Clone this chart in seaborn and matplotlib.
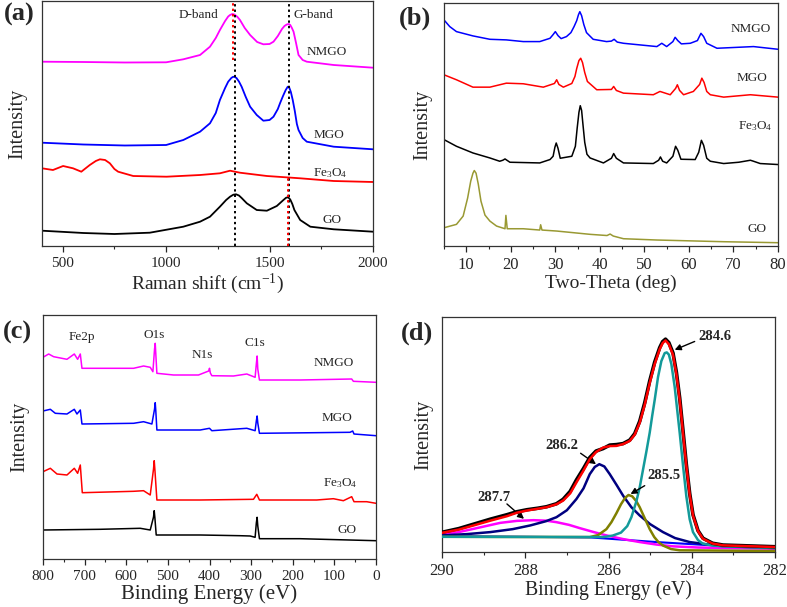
import matplotlib
matplotlib.use("Agg")
import matplotlib.pyplot as plt
from matplotlib.ticker import MultipleLocator
import seaborn as sns

# ---------------- data (intensity in arbitrary units) ----------------
# (a) Raman
a_nmgo_x = [400, 600, 800, 1000, 1083, 1164, 1212, 1240, 1260, 1285, 1300, 1309, 1320, 1330, 1345, 1357, 1380, 1406, 1440, 1470, 1500, 1519, 1540, 1560, 1572, 1583, 1593, 1600, 1608, 1616, 1628, 1640, 1660, 1680, 1810, 2000]
a_nmgo_y = [184.3, 184, 183.5, 183.7, 186.7, 191, 199.3, 208, 216, 225, 229.5, 231, 232, 231.5, 229, 226, 218, 211, 204, 201.7, 202, 204.3, 210, 217, 220, 221.5, 222, 221, 218, 214.3, 203, 191, 186, 184.3, 181, 178.3]
a_mgo_x = [400, 600, 800, 1000, 1083, 1164, 1212, 1240, 1260, 1285, 1300, 1315, 1322, 1330, 1340, 1352, 1365, 1385, 1406, 1438, 1470, 1500, 1519, 1540, 1551, 1565, 1578, 1588, 1595, 1603, 1612, 1622, 1632, 1640, 1660, 1680, 1810, 2000]
a_mgo_y = [103.3, 101.5, 100.5, 101, 106, 114.3, 122.7, 133, 146, 158, 164.3, 168, 169, 169.3, 168, 164.5, 159.3, 149, 139.3, 131, 125.3, 126, 129.3, 137, 143, 150, 156, 159.3, 158.5, 154, 146, 135, 122, 116, 108, 104.3, 99.3, 96.7]
a_fe_x = [400, 453, 502, 550, 590, 631, 660, 680, 705, 728, 750, 768, 841, 1002, 1164, 1260, 1309, 1357, 1487, 1648, 1810, 2000]
a_fe_y = [77.7, 76, 80, 77.7, 74.3, 81, 85, 86.7, 86, 82.7, 77, 74.3, 70, 69.3, 71, 72.7, 75.3, 73.3, 70, 67.7, 65, 64]
a_go_x = [400, 600, 750, 921, 1083, 1164, 1212, 1260, 1290, 1309, 1325, 1338, 1352, 1365, 1390, 1438, 1487, 1535, 1567, 1580, 1590, 1600, 1610, 1620, 1648, 1697, 1810, 2000]
a_go_y = [15.3, 13, 12, 13.3, 19.3, 24.3, 29.3, 39.3, 46, 49.3, 51.3, 51.7, 50.5, 48, 42.7, 36, 35.3, 40, 46, 48.3, 48.7, 46.5, 42, 36, 26, 19.3, 16.7, 14.3]
a_band_pos = [1333, 1596]
a_red_pos = [1322, 1588]

# (b) XRD
b_nmgo_x = [5, 6.3, 7.8, 11.5, 15.3, 19, 22.8, 26.5, 28.8, 29.5, 30, 30.6, 31.3, 32.5, 33.5, 34.2, 34.8, 35.2, 35.5, 35.9, 36.4, 37, 38.5, 41.5, 42.6, 43.2, 43.9, 45.3, 52.8, 53.9, 55, 56.4, 56.9, 57.5, 58.3, 60.3, 61.9, 62.7, 63.3, 64, 66.3, 74.5, 80]
b_nmgo_y = [226.7, 220, 215, 210.7, 207.3, 206.7, 205, 205, 208.3, 212, 215, 211, 208, 210, 214, 220, 226, 232, 235, 231, 222, 214, 207.3, 205, 205.5, 207.3, 204.5, 203.3, 200, 203.3, 200, 205, 209.3, 206, 202.7, 203.3, 206, 213.3, 210, 203.3, 198.3, 200, 197.3]
b_mgo_x = [5, 7.8, 11.5, 15.3, 19, 22.8, 27.3, 29.8, 30.3, 30.8, 31.8, 33.7, 34.4, 34.8, 35.3, 35.7, 36.1, 36.6, 37.2, 39.3, 42.6, 43.1, 43.7, 45.3, 52, 53.5, 55.8, 57, 57.4, 57.9, 58.8, 61, 62.4, 62.9, 63.4, 64, 64.8, 67.8, 73.8, 80]
b_mgo_y = [171.7, 166.7, 159.3, 159.3, 163.3, 162.7, 159.3, 163, 166.7, 162, 159.3, 163, 170, 178, 186, 188.3, 184, 174, 165, 156.7, 157, 160, 156, 153.3, 151.7, 155, 151.7, 158, 161.7, 156, 151.7, 155, 162, 168.3, 164, 155, 151.7, 149.3, 151.7, 149.3]
b_fe_x = [5, 7.8, 11.5, 15.3, 17.5, 18.2, 18.7, 19.8, 26.5, 28.8, 29.5, 29.9, 30.2, 30.6, 31.1, 33.7, 34.5, 34.9, 35.3, 35.6, 35.9, 36.2, 36.6, 37.1, 37.8, 40.8, 42.6, 43.1, 43.7, 45.3, 52, 53.2, 53.6, 54.1, 55, 56.4, 57, 57.5, 58.2, 61.4, 62.2, 62.8, 63.3, 64, 64.8, 67.8, 71.2, 73.8, 74.5, 76, 80]
b_fe_y = [106.7, 100, 93.3, 88.3, 85, 86, 87.3, 84, 83.3, 86.7, 90, 99, 103.3, 98, 88, 90, 100, 118, 134, 140.7, 136, 122, 104, 92, 88.3, 83.3, 88, 92.7, 88, 83.3, 82.7, 86, 89.3, 85, 83.3, 90, 100, 96, 87, 86.7, 94, 106, 101, 88, 85, 82.7, 84, 86, 85, 82.7, 81.7]
b_go_x = [5, 7.8, 9.3, 10.3, 11, 11.5, 11.8, 12.2, 12.7, 13.3, 14.2, 15.3, 16.8, 18.7, 18.9, 19.2, 22.8, 26.5, 26.7, 27, 30.3, 37.8, 41.6, 42.3, 43, 45.3, 52.8, 67.8, 80]
b_go_y = [18.3, 21.7, 30, 48, 65, 73, 75.7, 73, 62, 45, 31, 25, 20, 17.3, 30.7, 17.3, 17.3, 16, 21.3, 16, 15, 11.7, 10.5, 12, 10, 7.3, 6, 4.3, 3.3]

# (c) XPS survey
c_nmgo_x = [800, 786.4, 774.4, 742.4, 724.8, 716.8, 710.4, 706.4, 662.4, 582.4, 558.4, 542.4, 536, 532, 530.4, 529, 526.4, 486.4, 426.4, 402, 400, 398, 394.4, 342.4, 310.4, 290.4, 287.5, 285.6, 284, 280, 182.4, 58.4, 54.4, 0]
c_nmgo_y = [201.7, 205, 202.3, 199.7, 205, 199.7, 205, 190.7, 190.7, 190.7, 193, 191.7, 187.3, 210, 215.7, 205, 185.7, 184, 184, 188, 190.7, 186, 183.3, 183, 185, 181.7, 195, 203, 190, 179, 179, 180, 177.7, 176.7]
c_mgo_x = [800, 782.4, 770.4, 742.4, 724.8, 718.4, 710.4, 706.4, 582.4, 558.4, 538.4, 532, 530.4, 529, 526.4, 422.4, 400, 394.4, 310.4, 290.4, 287.5, 285.6, 284, 280, 62.4, 56, 52.8, 0]
c_mgo_y = [148, 149.7, 145.7, 145, 149.7, 145, 149, 135, 135.7, 137.3, 135, 150, 156.3, 148, 129, 129, 130.7, 128.3, 130.7, 128.3, 138, 143, 136, 125.7, 126.7, 128, 125, 123.3]
c_fe_x = [800, 782.4, 766.4, 742.4, 724.8, 716.8, 710.4, 705.6, 582.4, 558.4, 542.4, 534.5, 532.8, 531, 526.4, 422.4, 294.4, 286.4, 280, 142.4, 102.4, 78.4, 58.4, 52.8, 22.4, 0]
c_fe_y = [87.3, 90.7, 85, 84, 90.7, 85.7, 94, 66.3, 67.7, 68.3, 64, 90, 98.3, 88, 59, 59, 59.7, 64.7, 59, 59, 60.3, 58.3, 62.3, 57.3, 57.3, 55.7]
c_go_x = [800, 662.4, 566.4, 542.4, 534.5, 532.8, 531, 528, 422.4, 326.4, 302.4, 290.4, 287.5, 285.6, 284, 280, 182.4, 0]
c_go_y = [29, 29.7, 30.7, 29, 42, 48.3, 40, 24, 24, 23.3, 23, 21.7, 36, 41.7, 33, 20.3, 20.3, 18.3]

# (d) C1s high resolution
d_bg_x = [290, 286.45, 284.85, 283.25, 282]
d_bg_y = [15, 13.7, 9, 5, 4]
d_p1_x = [290, 286.13, 285.9, 285.7, 285.55, 285.45, 285.33, 285.25, 285.17, 285.09, 285.01, 284.95, 284.89, 284.81, 284.73, 284.65, 284.6, 284.55, 284.49, 284.41, 284.35, 284.29, 284.21, 284.13, 284.05, 283.97, 283.85, 283.73, 283.5, 283.25, 282]
d_p1_y = [14.3, 14, 15.5, 18.5, 25, 34, 50, 64, 82, 100, 119, 136, 152, 175, 191, 199, 199.7, 197.5, 188, 165, 142, 119, 86, 55, 32, 19, 11, 7.3, 5.5, 4.7, 3]
d_p2_x = [290, 286.45, 286.25, 286.05, 285.93, 285.81, 285.7, 285.6, 285.52, 285.43, 285.33, 285.25, 285.13, 285.01, 284.9, 284.8, 284.69, 284.5, 284.29, 282]
d_p2_y = [14.3, 14, 16, 22, 29, 38, 47, 53.5, 56.3, 55, 50, 44, 33, 22, 14, 9, 5.5, 2, 0.7, 0]
d_p3_x = [290, 289.4, 288.84, 288.3, 287.88, 287.5, 287.25, 287.0, 286.77, 286.6, 286.45, 286.33, 286.22, 286.1, 285.97, 285.8, 285.65, 285.45, 285.25, 285.0, 284.69, 284.4, 284.05, 283.6, 283.25, 282]
d_p3_y = [15.7, 17, 19, 22, 25.7, 30, 34, 41, 52.3, 63, 77.3, 84.5, 87.3, 85, 77.3, 66, 55.7, 44, 35.7, 27, 19, 13, 9, 6.5, 5, 3]
d_p4_x = [290, 289.6, 289.24, 288.9, 288.6, 288.2, 287.8, 287.5, 287.25, 286.95, 286.69, 286.35, 286.05, 285.65, 285.25, 284.85, 284.45, 283.85, 283.25, 282]
d_p4_y = [16.3, 19, 22.3, 25.5, 28.3, 30.3, 31, 30.5, 29, 26.3, 23, 19, 15.7, 12, 9, 6.5, 4.7, 3.5, 3, 2.3]
d_fit_x = [290, 289.6, 289.24, 288.84, 288.44, 288.2, 287.96, 287.7, 287.49, 287.25, 287.09, 286.92, 286.77, 286.6, 286.45, 286.3, 286.13, 285.97, 285.81, 285.65, 285.49, 285.37, 285.25, 285.13, 285.01, 284.89, 284.77, 284.7, 284.63, 284.55, 284.45, 284.37, 284.29, 284.21, 284.13, 284.05, 283.97, 283.85, 283.73, 283.5, 283.25, 282]
d_fit_y = [18.3, 21.5, 25.7, 30.5, 35, 38.5, 40.7, 42.5, 44, 47, 50.7, 58, 69, 81, 92.3, 99.5, 104, 105.5, 105.7, 107.5, 110.7, 117, 129, 147, 169, 188, 203, 209, 211.7, 208, 197.3, 178, 152.3, 119, 85.7, 57, 35.7, 20, 12.3, 7.5, 5.7, 4]
d_raw_y = [18.8, 22.5, 27, 32, 36.5, 39.5, 41.5, 43, 44.5, 47.5, 52, 60, 71.5, 83, 94, 100.5, 103, 106.5, 107, 108, 111.5, 118, 130.5, 149, 171, 190, 204.5, 210.5, 213, 209.5, 199, 180, 154, 121, 87, 58, 36.5, 20.5, 12.8, 7.8, 6, 4.3]
d_peak_labels = ["284.6", "286.2", "285.5", "287.7"]
d_label_xy = [(283.45, 215.7), (287.13, 105.7), (284.67, 75.7), (288.76, 54)]
d_arrow_tail = [(283.93, 210.7), (286.67, 98.3), (285.13, 65.7), (288.44, 47.3)]
d_arrow_head = [(284.41, 202.3), (286.3, 87.3), (285.47, 57.3), (288.03, 32.3)]

sample_names = ["NMGO", "MGO", "Fe$_3$O$_4$", "GO"]

# ---------------- style ----------------
sns.set_theme(style="ticks")
plt.rcParams["font.family"] = ["Liberation Serif", "DejaVu Serif"]
plt.rcParams["mathtext.fontset"] = "custom"
plt.rcParams["mathtext.rm"] = "Liberation Serif"
plt.rcParams["mathtext.it"] = "Liberation Serif:italic"
plt.rcParams["axes.linewidth"] = 0.9
plt.rcParams["axes.edgecolor"] = "#333333"

W, H = 787, 607
fig = plt.figure(figsize=(W / 100, H / 100), dpi=100)


def add_ax(l, t, r, b):
    return fig.add_axes([l / W, 1 - b / H, (r - l) / W, (b - t) / H])


def line(ax, x, y, color, lw=1.3, z=2):
    sns.lineplot(x=x, y=y, ax=ax, color=color, lw=lw, estimator=None,
                 sort=False, zorder=z)


def style(ax, xlabel, major, minor, ylab_x, tick_fs, xlab_fs):
    ax.set_yticks([])
    ax.set_ylabel("Intensity", fontsize=14.5)
    ax.yaxis.set_label_coords(ylab_x, 0.5)
    ax.set_xlabel(xlabel, fontsize=xlab_fs, labelpad=1)
    ax.xaxis.set_major_locator(MultipleLocator(major))
    ax.xaxis.set_minor_locator(MultipleLocator(minor))
    ax.tick_params(axis="x", which="major", direction="out", length=4,
                   width=0.9, labelsize=tick_fs, pad=4, top=False)
    ax.tick_params(axis="x", which="minor", direction="out", length=2.5,
                   width=0.8, top=False)
    for s in ax.spines.values():
        s.set_visible(True)


lab_fs = 9.5
dot = (0, (1.2, 1.6))

# ---- (a) ----
axa = add_ax(42, 1, 373, 246)
for xs, ys, c in [(a_nmgo_x, a_nmgo_y, "#ff00ff"), (a_mgo_x, a_mgo_y, "#0000ff"),
                  (a_fe_x, a_fe_y, "#ff0000"), (a_go_x, a_go_y, "#000000")]:
    line(axa, xs, ys, c)
axa.set_xlim(400, 2000)
axa.set_ylim(0, 245)
for xp in a_band_pos:
    axa.axvline(xp, color="black", ls=dot, lw=1.4, zorder=3)
axa.plot([a_red_pos[0]] * 2, [186, 245], color="red", ls=dot, lw=1.4, zorder=3)
axa.plot([a_red_pos[1]] * 2, [0, 68], color="red", ls=dot, lw=1.4, zorder=3)
axa.text(1155, 231, "D-band", fontsize=lab_fs, ha="center", va="center")
axa.text(1713, 231, "G-band", fontsize=lab_fs, ha="center", va="center")
for nm, (x, y) in zip(sample_names, [(1777, 194), (1785, 111), (1793, 72.7), (1801, 26)]):
    axa.text(x, y, nm, fontsize=lab_fs, ha="center", va="center")
style(axa, "Raman shift (cm$^{-1}$)", 500, 250, -0.045, 11, 14)

# ---- (b) ----
axb = add_ax(444, 3, 778, 246)
for xs, ys, c in [(b_nmgo_x, b_nmgo_y, "#0000ff"), (b_mgo_x, b_mgo_y, "#ff0000"),
                  (b_fe_x, b_fe_y, "#000000"), (b_go_x, b_go_y, "#999933")]:
    line(axb, xs, ys, c, lw=1.1)
axb.set_xlim(5, 80)
axb.set_ylim(0, 243.7)
for nm, (x, y) in zip(sample_names, [(73.8, 217.3), (74.2, 168.3), (74.9, 120), (75.3, 16.7)]):
    axb.text(x, y, nm, fontsize=lab_fs, ha="center", va="center")
style(axb, "Two-Theta (deg)", 10, 5, -0.036, 12, 14)

# ---- (c) ----
axc = add_ax(43, 315, 376, 559)
for xs, ys, c in [(c_nmgo_x, c_nmgo_y, "#ff00ff"), (c_mgo_x, c_mgo_y, "#0000ff"),
                  (c_fe_x, c_fe_y, "#ff0000"), (c_go_x, c_go_y, "#000000")]:
    line(axc, xs, ys, c, lw=1.1)
axc.set_xlim(800, 0)
axc.set_ylim(0, 244)
for t, (x, y) in zip(["Fe2p", "O1s", "N1s", "C1s"],
                     [(706, 222.3), (532.8, 224), (418.4, 204), (290.4, 215.7)]):
    axc.text(x, y, t, fontsize=lab_fs, ha="center", va="center")
for nm, (x, y) in zip(sample_names, [(102.4, 195.7), (94.4, 140.7), (86.4, 75.7), (70.4, 29)]):
    axc.text(x, y, nm, fontsize=lab_fs, ha="center", va="center")
style(axc, "Binding Energy (eV)", 100, 50, -0.042, 11, 15)

# ---- (d) ----
axd = add_ax(442, 317, 775, 552)
line(axd, d_bg_x, d_bg_y, "#0000ff", lw=1.5, z=2)
line(axd, d_p4_x, d_p4_y, "#ff00ff", lw=1.8, z=3)
line(axd, d_p3_x, d_p3_y, "#000080", lw=1.8, z=3)
line(axd, d_p2_x, d_p2_y, "#808000", lw=1.8, z=3)
line(axd, d_p1_x, d_p1_y, "#139a9a", lw=1.8, z=3)
line(axd, d_fit_x, d_raw_y, "#000000", lw=2.6, z=4)
line(axd, d_fit_x, d_fit_y, "#ff0000", lw=1.8, z=5)
axd.set_xlim(290, 282)
axd.set_ylim(-1, 235.3)
for t, xy, tail, head in zip(d_peak_labels, d_label_xy, d_arrow_tail, d_arrow_head):
    axd.text(xy[0], xy[1], t, fontsize=10.5, fontweight="bold", ha="center", va="center")
    axd.annotate("", xy=head, xytext=tail,
                 arrowprops=dict(arrowstyle="-|>", color="black", lw=1.0,
                                 mutation_scale=9, shrinkA=0, shrinkB=0))
style(axd, "Binding Energy (eV)", 2, 1, -0.027, 12, 14.2)

# panel labels
for t, (px, py) in zip(["(a)", "(b)", "(c)", "(d)"], [(19, 14), (415, 18), (17, 332), (417, 333)]):
    fig.text(px / W, 1 - py / H, t, fontsize=19, fontweight="bold", ha="center", va="center")

fig.savefig("out.png", dpi=100)
